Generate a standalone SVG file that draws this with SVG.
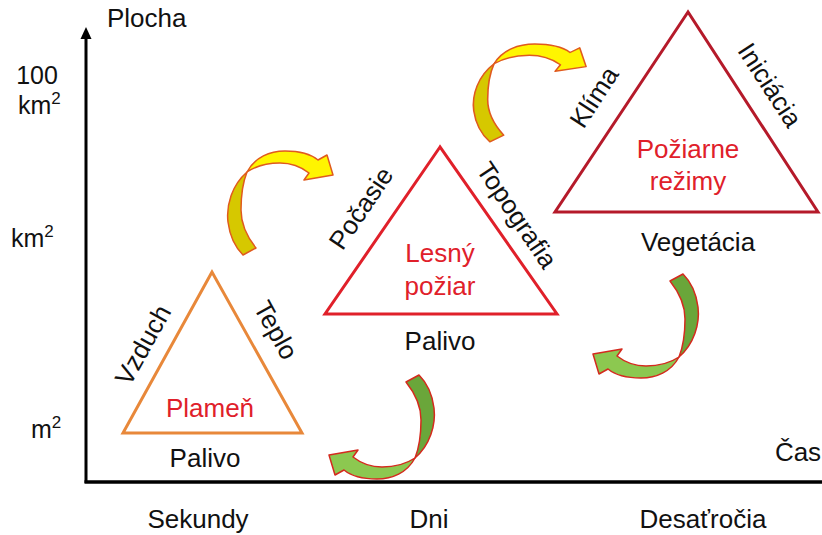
<svg xmlns="http://www.w3.org/2000/svg" width="822" height="535" viewBox="0 0 822 535">
<style>
text{font-family:"Liberation Sans",Arial,sans-serif;font-size:26px;fill:#111}
.red{fill:#E0202A}
.ax{font-size:25px}
.sup{font-size:17px}
.mid{text-anchor:middle}
.tri{fill:none;stroke-width:3;stroke-linejoin:miter}
.ya{stroke:#E05A1E;stroke-width:1.5;stroke-linejoin:round}
.ga{stroke:#D42A1E;stroke-width:1.5;stroke-linejoin:round}
</style>
<defs>
<path id="ahead" d="M247,172 C255,157 270,151 285,151 C300,151 312,155 318,160 L327,155 L333,175 L304,180 L309,173 C300,166 290,163 280,163 C265,163 253,168 247,172 Z"/>
<path id="atail" d="M247,172 C232,185 226,205 228,222 C230,238 236,248 243,255 L256,248 C248,238 241,225 241,210 C241,195 243,182 247,172 Z"/>
</defs>
<rect width="822" height="535" fill="#fff"/>
<g id="axes">
<line x1="86" y1="36" x2="86" y2="483" stroke="#000" stroke-width="3"/>
<polygon points="86,27 80.5,39 91.5,39" fill="#000"/>
<line x1="84.5" y1="482" x2="822" y2="482" stroke="#000" stroke-width="3.5"/>
<text x="107" y="27">Plocha</text>
<text class="ax mid" x="37" y="84">100</text>
<text class="ax" x="18" y="114">km<tspan class="sup" dy="-10">2</tspan></text>
<text class="ax" x="11" y="247">km<tspan class="sup" dy="-10">2</tspan></text>
<text class="ax" x="31" y="438">m<tspan class="sup" dy="-10">2</tspan></text>
<text class="mid" x="798" y="461">Čas</text>
<text class="mid" x="198" y="528">Sekundy</text>
<text class="mid" x="429" y="528">Dni</text>
<text class="mid" x="703" y="528">Desaťročia</text>
</g>
<g id="connectors">
<g id="arrow1" class="ya"><use href="#atail" fill="#D6C800"/><use href="#ahead" fill="#FFF500"/></g>
<g id="arrow2" class="ya" transform="matrix(1.07,0,0,0.94,229.8,-97.9)"><use href="#atail" fill="#D6C800"/><use href="#ahead" fill="#FFF500"/></g>
<g id="arrow3" class="ga" transform="rotate(180,463,264.5)"><use href="#atail" fill="#6AA63A"/><use href="#ahead" fill="#8CC850"/></g>
<g id="arrow4" class="ga" transform="rotate(180,331,315)"><use href="#atail" fill="#6AA63A"/><use href="#ahead" fill="#8CC850"/></g>
</g>
<g id="plamen">
<polygon class="tri" points="212,272 123,433 302,433" stroke="#E8883A"/>
<text class="red mid" x="210" y="417">Plameň</text>
<text class="mid" x="205" y="467">Palivo</text>
<text class="mid" transform="translate(143,345) rotate(-61)" y="9">Vzduch</text>
<text class="mid" transform="translate(276,330) rotate(61)" y="9">Teplo</text>
</g>
<g id="lesny-poziar">
<polygon class="tri" points="440,147 325,314 557,314" stroke="#E0202A"/>
<text class="red mid" x="440" y="262">Lesný</text>
<text class="red mid" x="440" y="295">požiar</text>
<text class="mid" x="440" y="350">Palivo</text>
<text class="mid" transform="translate(361,208) rotate(-56)" y="9">Počasie</text>
<text class="mid" transform="translate(517,215) rotate(56)" y="9">Topografia</text>
</g>
<g id="poziarne-rezimy">
<polygon class="tri" points="688,12 555,212 818,212" stroke="#B51A2A"/>
<text class="red mid" x="688" y="158">Požiarne</text>
<text class="red mid" x="688" y="190">režimy</text>
<text class="mid" x="698" y="251">Vegetácia</text>
<text class="mid" transform="translate(594,97) rotate(-57)" y="9">Klíma</text>
<text class="mid" transform="translate(770,85) rotate(57)" y="9">Iniciácia</text>
</g>
</svg>
